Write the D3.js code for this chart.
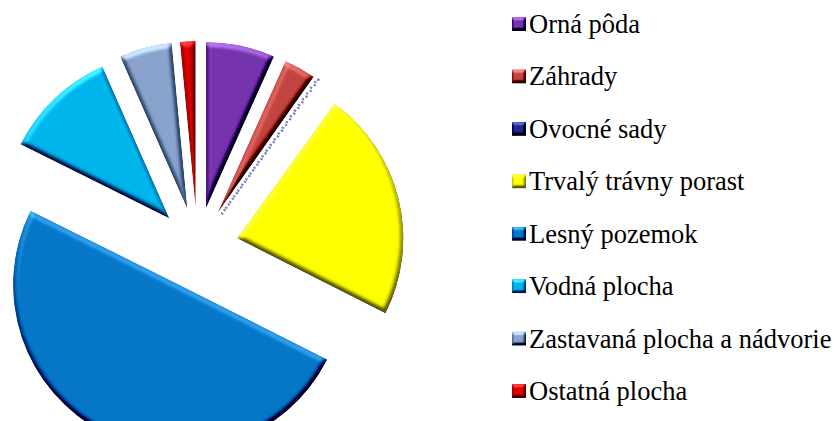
<html>
<head>
<script src="https://d3js.org/d3.v7.min.js"></script>
</head>
<body style="margin:0">
<script>
const categories = ["Orná pôda", "Záhrady", "Ovocné sady", "Trvalý trávny porast",
                    "Lesný pozemok", "Vodná plocha", "Zastavaná plocha a nádvorie", "Ostatná plocha"];
const values = [6.7, 3.1, 0.15, 22.5, 49.9, 11.05, 5.1, 1.5];
const colors = ["#7634ac", "#c0443f", "#1f2a8a", "#ffff00", "#0676c6", "#00b4ec", "#8aa3cc", "#d80000"];

const w = 836, h = 421;
const cx = 197.5, cy = 248, r = 166, explode = 41;

const svg = d3.select("body").append("svg")
    .attr("width", w)
    .attr("height", h);

const defs = svg.append("defs");

// bevel: out = source + k * (diffuse - flat level)
function bevel(id, blur, scale, k) {
    const f = defs.append("filter").attr("id", id)
        .attr("color-interpolation-filters", "sRGB")
        .attr("x", "-10%").attr("y", "-10%").attr("width", "120%").attr("height", "120%");
    f.append("feGaussianBlur").attr("in", "SourceAlpha").attr("stdDeviation", blur).attr("result", "blur");
    f.append("feDiffuseLighting").attr("in", "blur").attr("surfaceScale", scale)
        .attr("diffuseConstant", 1).attr("lighting-color", "#ffffff").attr("result", "diff")
        .append("feDistantLight").attr("azimuth", 255).attr("elevation", 45);
    f.append("feComposite").attr("in", "SourceGraphic").attr("in2", "diff")
        .attr("operator", "arithmetic").attr("k1", 0).attr("k2", 1).attr("k3", k)
        .attr("k4", -k * Math.SQRT1_2).attr("result", "lit");
    f.append("feComposite").attr("in", "lit").attr("in2", "SourceAlpha").attr("operator", "in");
}
bevel("bevel", 2.5, 5, 0.9);
bevel("bevelSmall", 1.5, 4, 0.9);

const pie = d3.pie().sort(null).value(d => d)(values);
const arc = d3.arc().innerRadius(0).outerRadius(r);

const g = svg.append("g").attr("transform", `translate(${cx},${cy})`);

g.selectAll("path.slice")
    .data(pie)
    .enter()
    .append("path")
    .attr("class", "slice")
    .attr("transform", d => {
        const a = (d.startAngle + d.endAngle) / 2;
        return `translate(${explode * Math.sin(a)},${-explode * Math.cos(a)})`;
    })
    .attr("d", arc)
    .attr("fill", (d, i) => i === 2 ? "none" : colors[i])
    .attr("stroke", (d, i) => i === 2 ? colors[i] : "none")
    .attr("stroke-width", (d, i) => i === 2 ? 2.5 : 0)
    .attr("stroke-dasharray", (d, i) => i === 2 ? "2,5" : null)
    .attr("stroke-opacity", 0.6)
    .attr("filter", (d, i) => i === 2 ? null : "url(#bevel)");

const yLegend = d3.scalePoint()
    .domain(categories)
    .range([24, 391]);

svg.selectAll("rect.key")
    .data(categories)
    .enter()
    .append("rect")
    .attr("class", "key")
    .attr("x", 512)
    .attr("y", d => yLegend(d) - 7)
    .attr("width", 14)
    .attr("height", 14)
    .attr("fill", (d, i) => colors[i])
    .attr("filter", "url(#bevelSmall)");

svg.selectAll("text.label")
    .data(categories)
    .enter()
    .append("text")
    .attr("class", "label")
    .attr("x", 529)
    .attr("y", d => yLegend(d) + 9)
    .attr("font-family", "Times New Roman")
    .attr("font-size", 26.5)
    .attr("fill", "#000")
    .text(d => d);
</script>
</body>
</html>
